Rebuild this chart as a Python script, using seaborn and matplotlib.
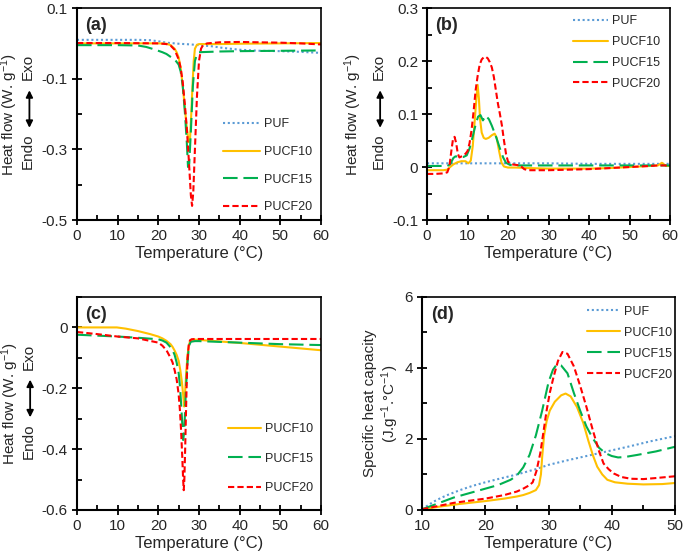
import matplotlib
matplotlib.use("Agg")
import matplotlib.pyplot as plt
from matplotlib.ticker import MultipleLocator, FormatStrFormatter
import seaborn as sns

sns.set_theme(style="ticks")
plt.rcParams['font.family'] = ['Liberation Sans', 'DejaVu Sans']
plt.rcParams['axes.unicode_minus'] = False
plt.rcParams['mathtext.fontset'] = 'custom'
plt.rcParams['mathtext.rm'] = 'Liberation Sans'
plt.rcParams['mathtext.default'] = 'regular'

samples = ["PUF", "PUCF10", "PUCF15", "PUCF20"]
colors = {"PUF": "#5B9BD5", "PUCF10": "#FFC000", "PUCF15": "#00B050", "PUCF20": "#FF0000"}
styles = {"PUF": (0, (1, 1.3)), "PUCF10": "-", "PUCF15": (0, (7, 2.8)), "PUCF20": (0, (3, 1.5))}

# ---- (a) heat flow, heating ----
a_puf_t = [0, 5, 10, 15, 18, 20, 22, 25, 28, 30, 33, 36, 40, 45, 50, 55, 60]
a_puf_hf = [0.01, 0.01, 0.01, 0.01, 0.009, 0.006, 0.002, -0.001, -0.003, -0.005, -0.008, -0.013,
            -0.018, -0.021, -0.022, -0.024, -0.027]
a_10_t = [0, 10, 20, 22, 23, 24, 24.5, 25, 25.5, 26, 26.5, 27, 27.5, 27.8, 28.1, 28.4, 28.7, 29,
          29.5, 30, 35, 40, 50, 60]
a_10_hf = [0.0, 0.0, 0.0, -0.001, -0.005, -0.015, -0.025, -0.04, -0.07, -0.12, -0.18, -0.24, -0.28,
           -0.27, -0.2, -0.12, -0.05, -0.015, -0.004, -0.002, -0.002, -0.001, 0.0, 0.001]
a_15_t = [0, 5, 10, 15, 17, 19, 21, 22, 23, 24, 25, 25.5, 26, 26.5, 27, 27.3, 27.6, 28, 28.5, 29,
          29.5, 30, 35, 40, 50, 60]
a_15_hf = [-0.005, -0.005, -0.005, -0.006, -0.01, -0.017, -0.025, -0.03, -0.038, -0.045, -0.06,
           -0.08, -0.12, -0.19, -0.28, -0.35, -0.34, -0.25, -0.12, -0.05, -0.03, -0.025, -0.023,
           -0.022, -0.021, -0.02]
a_20_t = [0, 10, 20, 22, 23, 24, 25, 25.5, 26, 26.5, 27, 27.5, 28, 28.3, 28.6, 29, 29.5, 30, 30.5,
          31, 32, 35, 40, 45, 50, 55, 60]
a_20_hf = [0.001, 0.001, 0.0, -0.002, -0.006, -0.018, -0.045, -0.07, -0.11, -0.17, -0.24, -0.33,
           -0.43, -0.46, -0.42, -0.3, -0.15, -0.05, -0.015, -0.005, 0.0, 0.003, 0.004, 0.003,
           0.002, 0.0, -0.003]

# ---- (b) heat flow, cooling ----
b_puf_t = [0, 10, 20, 30, 40, 50, 60]
b_puf_hf = [0.007, 0.007, 0.007, 0.007, 0.006, 0.006, 0.006]
b_10_t = [0, 2, 4, 5, 5.7, 6.5, 7.5, 8.5, 9.5, 10.2, 10.8, 11.3, 11.8, 12.2, 12.5, 12.8, 13.1, 13.5,
          14, 14.5, 15.2, 16, 16.7, 17.2, 17.8, 18.4, 19, 20, 22, 25, 30, 35, 40, 45, 50, 55, 57,
          58, 59, 60]
b_10_hf = [-0.006, -0.006, -0.006, -0.005, 0.0, 0.005, 0.009, 0.011, 0.011, 0.007, 0.012, 0.04,
           0.09, 0.13, 0.155, 0.13, 0.09, 0.065, 0.055, 0.053, 0.055, 0.06, 0.063, 0.055, 0.03,
           0.008, 0.001, -0.001, -0.001, -0.002, -0.003, -0.003, -0.003, -0.002, 0.0, 0.002,
           0.003, 0.008, 0.002, 0.002]
b_15_t = [0, 3, 5, 5.7, 6.5, 7, 8, 9, 9.8, 10.5, 11.2, 12, 12.6, 13.2, 13.8, 14.5, 15.3, 16, 17,
          18, 18.8, 19.5, 20.5, 22, 25, 30, 40, 50, 60]
b_15_hf = [0.002, 0.002, 0.002, 0.005, 0.017, 0.02, 0.02, 0.019, 0.022, 0.035, 0.055, 0.08, 0.095,
           0.098, 0.088, 0.097, 0.09, 0.078, 0.058, 0.035, 0.018, 0.008, 0.004, 0.003, 0.003,
           0.003, 0.003, 0.003, 0.003]
b_20_t = [0, 2, 4, 5, 5.5, 6, 6.4, 6.8, 7.2, 7.6, 8, 8.5, 9, 9.5, 10, 10.5, 11, 11.5, 12, 12.5, 13,
          13.5, 14, 14.5, 15, 15.5, 16, 16.5, 17, 17.5, 18, 18.5, 19, 19.5, 20, 21, 22, 23, 24,
          25, 30, 35, 40, 45, 50, 55, 57, 60]
b_20_hf = [-0.013, -0.013, -0.012, -0.01, 0.0, 0.03, 0.052, 0.057, 0.045, 0.025, 0.018, 0.02,
           0.022, 0.025, 0.03, 0.045, 0.07, 0.105, 0.145, 0.172, 0.193, 0.203, 0.207, 0.208,
           0.205, 0.198, 0.188, 0.17, 0.145, 0.12, 0.1, 0.078, 0.05, 0.025, 0.01, 0.005, 0.004,
           0.003, -0.004, -0.006, -0.006, -0.005, -0.004, -0.002, 0.0, 0.002, 0.003, 0.003]

# ---- (c) heat flow, second heating ----
c_10_t = [0, 5, 9.8, 12, 15, 18, 20, 21, 22, 23, 23.5, 24, 24.5, 25, 25.4, 25.8, 26.1, 26.35, 26.6,
          26.9, 27.2, 27.5, 27.8, 28.2, 29, 30, 35, 40, 45, 50, 55, 60]
c_10_hf = [0, 0, 0, -0.004, -0.012, -0.022, -0.03, -0.036, -0.044, -0.055, -0.064, -0.076, -0.09,
           -0.11, -0.14, -0.18, -0.22, -0.26, -0.21, -0.14, -0.09, -0.06, -0.045, -0.04, -0.04,
           -0.041, -0.046, -0.051, -0.057, -0.063, -0.069, -0.075]
c_15_t = [0, 5, 10, 15, 20, 21, 22, 23, 23.5, 24, 24.5, 25, 25.3, 25.6, 25.9, 26.1, 26.3, 26.5,
          26.8, 27.1, 27.4, 27.7, 28, 29, 30, 40, 50, 60]
c_15_hf = [-0.024, -0.027, -0.03, -0.034, -0.039, -0.043, -0.05, -0.065, -0.075, -0.09, -0.115,
           -0.15, -0.19, -0.25, -0.32, -0.37, -0.35, -0.3, -0.2, -0.13, -0.08, -0.055, -0.047,
           -0.045, -0.045, -0.05, -0.055, -0.058]
c_20_t = [0, 5, 10, 15, 20, 21, 22, 23, 23.5, 24, 24.5, 25, 25.3, 25.6, 25.9, 26.1, 26.25, 26.4,
          26.6, 26.8, 27, 27.2, 27.5, 27.8, 28.2, 29, 30, 40, 50, 60]
c_20_hf = [-0.015, -0.022, -0.03, -0.036, -0.05, -0.06, -0.075, -0.1, -0.115, -0.14, -0.17, -0.22,
           -0.27, -0.34, -0.43, -0.5, -0.535, -0.5, -0.4, -0.28, -0.17, -0.1, -0.055, -0.042,
           -0.039, -0.038, -0.038, -0.038, -0.038, -0.038]

# ---- (d) specific heat capacity ----
d_puf_t = [10, 11, 12, 13, 14, 16, 18, 20, 22, 25, 28, 30, 33, 36, 40, 43, 46, 50]
d_puf_cp = [0.02, 0.14, 0.25, 0.34, 0.42, 0.56, 0.68, 0.78, 0.87, 1.0, 1.15, 1.27, 1.4, 1.52,
            1.68, 1.8, 1.93, 2.08]
d_10_t = [10, 13, 16, 20, 23, 25, 26, 27, 28, 28.5, 28.8, 29, 29.3, 29.7, 30.2, 31, 32, 32.7, 33.5,
          34.5, 35.5, 36.3, 37, 37.7, 38.5, 39.3, 40.5, 42.5, 45, 48, 50]
d_10_cp = [0.02, 0.1, 0.17, 0.25, 0.32, 0.38, 0.42, 0.48, 0.56, 0.7, 1.0, 1.5, 2.1, 2.5, 2.8, 3.05,
           3.23, 3.28, 3.2, 2.9, 2.45, 1.95, 1.55, 1.22, 1.0, 0.85, 0.78, 0.74, 0.72, 0.73, 0.76]
d_15_t = [10, 12, 15, 18, 20, 22, 24, 25, 26, 27, 28, 29, 30, 30.7, 31.3, 32, 33, 34, 35, 36, 37,
          38, 39, 40, 41, 42, 44, 47, 50]
d_15_cp = [0.02, 0.15, 0.35, 0.5, 0.6, 0.7, 0.85, 0.97, 1.2, 1.55, 2.1, 2.8, 3.6, 3.95, 4.1, 4.07,
           3.85, 3.3, 2.8, 2.35, 2.02, 1.75, 1.6, 1.52, 1.48, 1.49, 1.55, 1.65, 1.78]
d_20_t = [10, 15, 20, 23, 25, 26, 27, 27.5, 28.1, 28.7, 29.2, 29.7, 30.2, 30.8, 31.5, 32.2, 33, 34,
          35, 36, 37, 38, 38.7, 39.5, 40.3, 41.5, 43, 45, 47, 50]
d_20_cp = [0.02, 0.2, 0.32, 0.42, 0.52, 0.6, 0.7, 0.78, 1.1, 1.6, 2.2, 2.8, 3.3, 3.75, 4.2, 4.45,
           4.4, 4.05, 3.5, 2.9, 2.25, 1.65, 1.31, 1.15, 1.03, 0.93, 0.88, 0.87, 0.9, 0.95]

panels = {
    "a": [("PUF", a_puf_t, a_puf_hf), ("PUCF10", a_10_t, a_10_hf),
          ("PUCF15", a_15_t, a_15_hf), ("PUCF20", a_20_t, a_20_hf)],
    "b": [("PUF", b_puf_t, b_puf_hf), ("PUCF10", b_10_t, b_10_hf),
          ("PUCF15", b_15_t, b_15_hf), ("PUCF20", b_20_t, b_20_hf)],
    "c": [("PUCF10", c_10_t, c_10_hf), ("PUCF15", c_15_t, c_15_hf), ("PUCF20", c_20_t, c_20_hf)],
    "d": [("PUF", d_puf_t, d_puf_cp), ("PUCF10", d_10_t, d_10_cp),
          ("PUCF15", d_15_t, d_15_cp), ("PUCF20", d_20_t, d_20_cp)],
}

fig = plt.figure(figsize=(6.85, 5.59), dpi=100)
axes = {
    "a": fig.add_axes([0.1124, 0.6064, 0.3562, 0.3792]),
    "b": fig.add_axes([0.6234, 0.6064, 0.3547, 0.3792]),
    "c": fig.add_axes([0.1124, 0.0877, 0.3562, 0.381]),
    "d": fig.add_axes([0.6161, 0.0877, 0.3693, 0.381]),
}

for key, series in panels.items():
    ax = axes[key]
    for name, t, v in series:
        sns.lineplot(x=t, y=v, ax=ax, color=colors[name], linestyle=styles[name],
                     linewidth=1.5, label=name, sort=False)
    ax.set_facecolor("white")
    for side in ["left", "bottom"]:
        ax.spines[side].set_linewidth(1.5)
    for side in ["top", "right"]:
        ax.spines[side].set_linewidth(1.2)
    for sp in ax.spines.values():
        sp.set_color("black")
        sp.set_visible(True)
    ax.tick_params(which="major", direction="inout", length=7, width=1.3, labelsize=11,
                   color="black", pad=3)
    ax.tick_params(which="minor", direction="in", length=3.5, width=1.3, color="black")
    ax.set_xlabel("Temperature (°C)", fontsize=12, labelpad=2)
    ax.text(0.035, 0.92, f"({key})", transform=ax.transAxes, fontsize=13,
            fontweight="bold", ha="left", va="center")

# x axes
for key in ["a", "b", "c"]:
    ax = axes[key]
    ax.set_xlim(0, 60)
    ax.xaxis.set_major_locator(MultipleLocator(10))
    ax.xaxis.set_minor_locator(MultipleLocator(5))
axes["d"].set_xlim(10, 50)
axes["d"].xaxis.set_major_locator(MultipleLocator(10))
axes["d"].xaxis.set_minor_locator(MultipleLocator(5))

# y axes
ax = axes["a"]
ax.set_ylim(-0.5, 0.1)
ax.set_yticks([-0.5, -0.3, -0.1, 0.1])
ax.set_yticks([-0.4, -0.2, 0.0], minor=True)
ax = axes["b"]
ax.set_ylim(-0.1, 0.3)
ax.yaxis.set_major_locator(MultipleLocator(0.1))
ax.yaxis.set_minor_locator(MultipleLocator(0.05))
ax = axes["c"]
ax.set_ylim(-0.6, 0.1)
ax.set_yticks([-0.6, -0.4, -0.2, 0.0])
ax.set_yticks([-0.5, -0.3, -0.1, 0.1], minor=True)
ax = axes["d"]
ax.set_ylim(0, 6)
ax.yaxis.set_major_locator(MultipleLocator(2))
ax.yaxis.set_minor_locator(MultipleLocator(1))
for key in ["a", "b", "c", "d"]:
    axes[key].yaxis.set_major_formatter(FormatStrFormatter("%g"))

# y labels with Endo/Exo arrow
hf_pos = {"a": (-0.277, -0.2), "b": (-0.305, -0.198), "c": (-0.275, -0.197)}
for key, (xl, xe) in hf_pos.items():
    ax = axes[key]
    ax.set_ylabel("Heat flow (W. g$^{-1}$)", fontsize=11, va="center")
    ax.yaxis.set_label_coords(xl, 0.5)
    ax.text(xe, 0.72, "Exo", transform=ax.transAxes, rotation=90, fontsize=11,
            ha="center", va="center")
    ax.text(xe, 0.325, "Endo", transform=ax.transAxes, rotation=90, fontsize=11,
            ha="center", va="center")
    ax.annotate("", xy=(xe + 0.005, 0.612), xytext=(xe + 0.005, 0.435),
                xycoords="axes fraction", textcoords="axes fraction",
                arrowprops=dict(arrowstyle="<|-|>", color="black", lw=1.3,
                                mutation_scale=10, shrinkA=0, shrinkB=0),
                annotation_clip=False)
axes["d"].set_ylabel("Specific heat capacity\n(J.g$^{-1}$.°C$^{-1}$)", fontsize=11,
                     va="center", linespacing=1.15)
axes["d"].yaxis.set_label_coords(-0.158, 0.5)

# legends
leg_cfg = {
    "a": dict(bbox=(0.598, 0.479), spacing=1.25, hl=2.95),
    "b": dict(bbox=(0.601, 0.965), spacing=0.7, hl=2.8),
    "c": dict(bbox=(0.619, 0.407), spacing=1.4, hl=2.65),
    "d": dict(bbox=(0.652, 0.96), spacing=0.72, hl=2.65),
}
for key, cfg in leg_cfg.items():
    ax = axes[key]
    h, l = ax.get_legend_handles_labels()
    ax.legend(h, l, loc="upper left", bbox_to_anchor=cfg["bbox"], frameon=False,
              fontsize=9, labelspacing=cfg["spacing"], handlelength=cfg["hl"],
              handletextpad=0.3, borderpad=0, borderaxespad=0)

plt.savefig("out.png", dpi=100)
